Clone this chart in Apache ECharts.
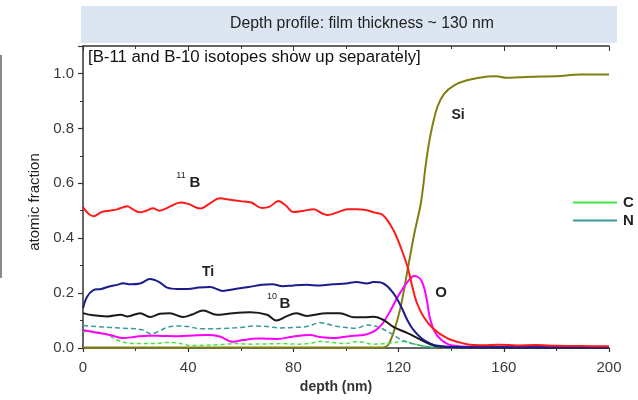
<!DOCTYPE html>
<html><head><meta charset="utf-8">
<script src="https://cdn.jsdelivr.net/npm/echarts@6/dist/echarts.min.js"></script>
<style>html,body{margin:0;padding:0;background:#fff}#c{width:638px;height:400px}</style>
</head><body><div id="c"></div>
<script>
const xTicks = [0, 40, 80, 120, 160, 200];
const yTicks = [0.0, 0.2, 0.4, 0.6, 0.8, 1.0];
const B11 = [[0,0.513],[2,0.49],[4,0.48],[7,0.495],[10,0.50],[13,0.505],[16.8,0.516],[19,0.505],[21.7,0.494],[24,0.50],[26.7,0.509],[29,0.50],[33,0.515],[37,0.53],[40,0.525],[44.6,0.508],[48,0.525],[52,0.545],[56,0.54],[60,0.535],[64,0.53],[68,0.51],[71,0.515],[74.3,0.535],[77,0.52],[80,0.495],[84,0.5],[87.6,0.505],[91,0.49],[93,0.484],[97,0.495],[100.5,0.505],[104,0.505],[108,0.502],[110.5,0.494],[114,0.484],[118,0.43],[120.8,0.367],[123.4,0.295],[125.3,0.22],[127,0.163],[129.5,0.114],[133,0.072],[138.6,0.035],[146,0.014],[152,0.01],[158,0.012],[165,0.009],[172,0.011],[180,0.008],[190,0.007],[200,0.006]];
const Ti = [[0,0.145],[1.5,0.186],[3.8,0.21],[7,0.215],[10.3,0.225],[13,0.23],[15.2,0.236],[18,0.232],[21.7,0.235],[25.5,0.251],[29,0.24],[32,0.22],[36,0.215],[40,0.215],[44,0.22],[48.4,0.222],[53,0.208],[58,0.215],[63,0.222],[68,0.23],[72,0.232],[76,0.225],[80,0.228],[85,0.23],[90,0.228],[95,0.232],[100,0.235],[104,0.24],[108,0.235],[110.5,0.24],[114,0.236],[118,0.20],[121,0.15],[123.4,0.10],[125.7,0.065],[129.5,0.03],[135,0.008],[145,0.003],[200,0.002]];
const B10 = [[0,0.127],[3.9,0.119],[9.3,0.115],[14.4,0.121],[16.9,0.115],[21.7,0.127],[25.5,0.113],[29.3,0.125],[33,0.127],[38,0.113],[41.5,0.122],[45.7,0.137],[50.8,0.121],[57,0.127],[63.5,0.13],[70,0.121],[73.5,0.10],[77.3,0.115],[81,0.127],[85,0.117],[92.6,0.127],[97.7,0.127],[102.8,0.112],[107,0.112],[110.5,0.114],[114.3,0.102],[118,0.077],[123.4,0.054],[127.2,0.036],[131,0.018],[135,0.005],[145,0.002],[200,0.001]];
const O = [[0,0.065],[4,0.058],[10.3,0.047],[15.4,0.036],[20,0.041],[25,0.045],[30,0.044],[35,0.043],[40,0.045],[47,0.047],[52,0.042],[57,0.023],[61,0.029],[66,0.035],[70,0.034],[74,0.033],[80,0.042],[86.5,0.047],[90,0.04],[95,0.036],[99,0.04],[103,0.045],[106.7,0.047],[110.5,0.06],[112,0.07],[114,0.09],[117,0.138],[119.7,0.187],[123.4,0.241],[126,0.262],[128.6,0.247],[130.5,0.187],[131.8,0.114],[133.7,0.06],[136.2,0.03],[140,0.01],[150,0.004],[200,0.003]];
const N = [[0,0.082],[5,0.078],[10,0.075],[15,0.072],[20,0.07],[23,0.065],[26,0.051],[29,0.062],[32,0.075],[36,0.08],[40,0.078],[45,0.07],[50,0.07],[55,0.072],[60,0.075],[65,0.08],[70,0.078],[75,0.073],[80,0.075],[85,0.078],[90.3,0.092],[95,0.082],[98,0.077],[104,0.072],[108,0.084],[112,0.077],[117,0.054],[121,0.03],[125.7,0.015],[131,0.005],[140,0.002],[200,0.001]];
const C = [[0,0.06],[3.9,0.06],[9.3,0.047],[13,0.029],[17,0.018],[22,0.016],[27,0.016],[32,0.02],[36,0.018],[41,0.009],[46,0.01],[52,0.012],[58,0.016],[64,0.014],[70,0.015],[76,0.016],[82,0.014],[87,0.018],[90,0.024],[95,0.02],[100,0.016],[104,0.024],[110.5,0.014],[117,0.018],[122,0.024],[125.7,0.015],[131,0.005],[140,0.002],[200,0.001]];
const Si = [[0,0.002],[114,0.002],[115.9,0.01],[118,0.054],[120.8,0.15],[123.4,0.284],[126,0.418],[128.5,0.53],[130.5,0.68],[132.2,0.78],[134.7,0.877],[137.3,0.926],[141,0.956],[146,0.975],[153.8,0.989],[157,0.99],[161,0.984],[166,0.986],[174,0.989],[180,0.99],[189,0.996],[200,0.996]];

const FONT = 'Liberation Sans, Arial, sans-serif';
const chart = echarts.init(document.getElementById('c'), null, {renderer: 'canvas'});
function ln(name, data, color, width, type) {
  return {name, type: 'line', data, smooth: 0.35, showSymbol: false, symbol: 'none',
    lineStyle: {color, width, type: type || 'solid'}, itemStyle: {color}, z: 3, animation: false};
}
const axisLine = {show: true, lineStyle: {color: '#333', width: 1.5}};
chart.setOption({
  animation: false,
  grid: {left: 83, right: 29, top: 46, bottom: 52},
  legend: {
    data: ['C', 'N'], orient: 'vertical', left: 568, top: 190, icon: 'rect',
    itemWidth: 44, itemHeight: 2, itemGap: 3,
    textStyle: {fontFamily: FONT, fontSize: 15, fontWeight: 'bold', color: '#222', padding: [0,0,0,1]}
  },
  xAxis: [{
    type: 'value', min: xTicks[0], max: xTicks[xTicks.length - 1], interval: 40,
    axisLine, axisTick: {show: true, inside: false, length: 4, lineStyle: {color: '#333', width: 1.2}},
    minorTick: {show: true, splitNumber: 2, length: 3, lineStyle: {color: '#333'}},
    splitLine: {show: false},
    axisLabel: {fontFamily: FONT, fontSize: 15, color: '#3a3a3a', margin: 12}
  }, {
    type: 'value', position: 'top', min: 0, max: 200, interval: 40,
    axisLine, axisTick: {show: true, inside: true, length: 5, lineStyle: {color: '#333'}},
    minorTick: {show: true, splitNumber: 2, length: 3, lineStyle: {color: '#333'}},
    splitLine: {show: false}, axisLabel: {show: false}
  }],
  yAxis: {
    type: 'value', min: 0, max: 1.1, interval: 0.2,
    axisLine, axisTick: {show: true, inside: false, length: 5, lineStyle: {color: '#333', width: 1.2}},
    minorTick: {show: true, splitNumber: 2, length: 3, lineStyle: {color: '#333'}},
    splitLine: {show: false},
    axisLabel: {fontFamily: FONT, fontSize: 15, color: '#3a3a3a', margin: 9,
      showMaxLabel: false,
      formatter: v => (yTicks.some(t => Math.abs(t - v) < 1e-6) ? v.toFixed(1) : '')}
  },
  series: [
    ln('Si', Si, '#7f7f10', 2),
    ln('C', C, '#3fe83f', 1.5, [4, 3]),
    ln('N', N, '#3a9a9a', 1.5, [5, 3]),
    ln('O', O, '#ff00ff', 2),
    ln('B10', B10, '#1a1a1a', 2),
    ln('Ti', Ti, '#1c1c8c', 2),
    ln('B11', B11, '#ff1a1a', 2)
  ],
  graphic: [
    {type: 'rect', left: 81, top: 6, shape: {width: 536, height: 37}, style: {fill: '#dce6f2'}, z: 1},
    {type: 'text', x: 362, y: 24, style: {text: 'Depth profile: film thickness ~ 130 nm', font: '15.8px ' + FONT, fill: '#222', align: 'center', verticalAlign: 'middle'}, z: 5},
    {type: 'text', x: 88, y: 57, style: {text: '[B-11 and B-10 isotopes show up separately]', font: '16.8px ' + FONT, fill: '#111', align: 'left', verticalAlign: 'middle'}, z: 5},
    {type: 'text', x: 35, y: 202, rotation: Math.PI / 2, style: {text: 'atomic fraction', font: '15px ' + FONT, fill: '#222', align: 'center', verticalAlign: 'middle'}, z: 5},
    {type: 'text', x: 336, y: 387, style: {text: 'depth (nm)', font: 'bold 14px ' + FONT, fill: '#333', align: 'center', verticalAlign: 'middle'}, z: 5},
    {type: 'text', x: 181, y: 176, style: {text: '11', font: '9px ' + FONT, fill: '#222', align: 'center', verticalAlign: 'middle'}, z: 5},
    {type: 'text', x: 195, y: 183, style: {text: 'B', font: 'bold 15px ' + FONT, fill: '#222', align: 'center', verticalAlign: 'middle'}, z: 5},
    {type: 'text', x: 208, y: 272, style: {text: 'Ti', font: 'bold 14px ' + FONT, fill: '#222', align: 'center', verticalAlign: 'middle'}, z: 5},
    {type: 'text', x: 272, y: 297, style: {text: '10', font: '9px ' + FONT, fill: '#222', align: 'center', verticalAlign: 'middle'}, z: 5},
    {type: 'text', x: 285, y: 304, style: {text: 'B', font: 'bold 15px ' + FONT, fill: '#222', align: 'center', verticalAlign: 'middle'}, z: 5},
    {type: 'text', x: 441, y: 293, style: {text: 'O', font: 'bold 15px ' + FONT, fill: '#222', align: 'center', verticalAlign: 'middle'}, z: 5},
    {type: 'text', x: 458, y: 115, style: {text: 'Si', font: 'bold 14px ' + FONT, fill: '#222', align: 'center', verticalAlign: 'middle'}, z: 5},
    {type: 'line', shape: {x1: 1, y1: 55, x2: 1, y2: 278}, style: {stroke: '#666', lineWidth: 1.5}, z: 5}
  ]
});
</script></body></html>
